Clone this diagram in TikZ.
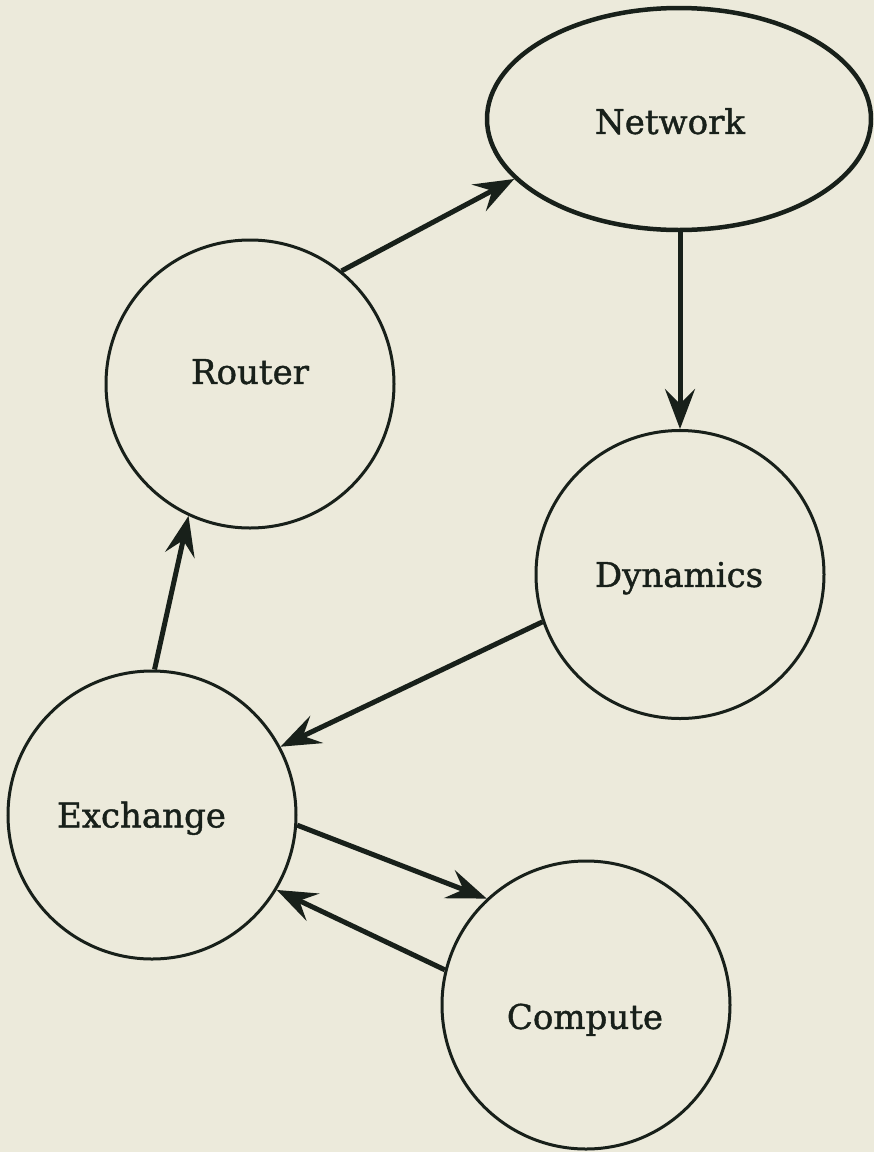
\documentclass[tikz,border=0pt]{standalone}
\usepackage{fontspec}
\setmainfont{DejaVu Serif}
\newfontfamily\lblfont{DejaVu Serif}[FakeBold=1.2]
\usetikzlibrary{shapes.geometric,arrows.meta}
\definecolor{paper}{HTML}{ECEADB}
\definecolor{ink}{HTML}{18201A}
\tikzset{
  blob/.style={circle,draw=ink,line width=3pt,minimum size=288pt,inner sep=0pt},
  oval/.style={ellipse,draw=ink,line width=4.5pt,minimum width=384pt,minimum height=222pt,inner sep=0pt},
  txt/.style={font=\lblfont\fontsize{34}{34}\selectfont,text=ink,text height=24.8pt,text depth=0pt,inner sep=0pt},
  link/.style={draw=ink,line width=5pt,-{Stealth[length=40pt,width=30pt,inset=15pt]}}
}
\begin{document}
\begin{tikzpicture}[x=1pt,y=-1pt]
\fill[paper] (0,0) rectangle (874,1152);
\useasboundingbox (0,0) rectangle (874,1152);
\node[oval] (network) at (679,119) {};
\node[blob] (router) at (250,384) {};
\node[blob] (dynamics) at (680,574.5) {};
\node[blob] (exchange) at (152,815) {};
\node[blob] (compute) at (586,1005) {};
\node[txt] (network-t) at (670,121.5) {Network};
\node[txt] (router-t) at (250,371.5) {Router};
\node[txt] (dynamics-t) at (679,574.5) {Dynamics};
\node[txt] (exchange-t) at (141.5,815) {Exchange};
\node[txt] (compute-t) at (585,1016.5) {Compute};
\draw[link] (router.51.4) -- (network.200);
\draw[link] (dynamics.north |- network.south) -- (dynamics.north);
\draw[link] (dynamics.199) -- (exchange.28.7);
\draw[link] (exchange.89) -- (router.245);
\draw[link] (exchange.-4) -- (compute.133);
\draw[link] (compute.166) -- (exchange.-31);
\end{tikzpicture}
\end{document}
